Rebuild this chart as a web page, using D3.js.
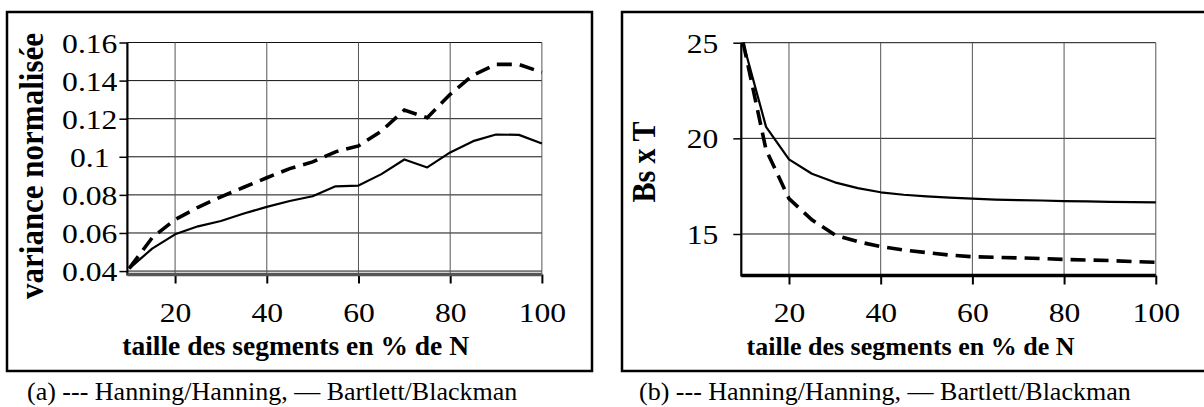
<!DOCTYPE html>
<html>
<head>
<meta charset="utf-8">
<script src="https://cdn.jsdelivr.net/npm/d3@7/dist/d3.min.js"></script>
<style>
  html, body { margin: 0; padding: 0; background: #fff; }
  svg { display: block; }
  text { font-family: "Liberation Serif", "Times New Roman", serif; fill: #000; white-space: pre; }
</style>
</head>
<body>
<svg id="fig" width="1204" height="407"></svg>
<script>
// ---------- data ----------
const sizes = [10, 15, 20, 25, 30, 35, 40, 45, 50, 55, 60, 65, 70, 75, 80, 85, 90, 95, 100];
const xTicks = [20, 40, 60, 80, 100];

// (a) variance normalisée
const varHanning  = [0.0414, 0.0575, 0.067, 0.0735, 0.079, 0.084, 0.089, 0.0938, 0.0973, 0.1026, 0.1057, 0.1135, 0.1245, 0.1205, 0.1328, 0.1429, 0.1485, 0.1485, 0.1443];
const varBartlett = [0.0413, 0.0518, 0.0593, 0.0635, 0.0663, 0.0702, 0.0737, 0.0768, 0.0793, 0.0845, 0.0849, 0.0909, 0.0986, 0.0944, 0.1023, 0.1082, 0.1117, 0.1115, 0.107];
const varTicks = [0.04, 0.06, 0.08, 0.1, 0.12, 0.14, 0.16];

// (b) Bs x T
const bstHanning  = [25, 19.4, 16.85, 15.74, 14.95, 14.6, 14.34, 14.16, 14.03, 13.9, 13.81, 13.78, 13.75, 13.72, 13.67, 13.64, 13.61, 13.56, 13.52];
const bstBartlett = [25, 20.6, 18.9, 18.15, 17.7, 17.4, 17.18, 17.05, 16.97, 16.9, 16.85, 16.8, 16.77, 16.75, 16.72, 16.7, 16.68, 16.67, 16.65];
const bstTicks = [15, 20, 25];

const xTitle = "taille des segments en % de N";
const captionA = "(a) --- Hanning/Hanning, \u2014 Bartlett/Blackman";
const captionB = "(b) --- Hanning/Hanning, \u2014 Bartlett/Blackman";

const svg = d3.select("#fig");
const SERIF = '"Liberation Serif", "Times New Roman", serif';
const SX = 1.15; // horizontal stretch of tick labels

function panel(cfg) {
  const g = svg.append("g");
  // frame
  g.append("rect").attr("x", cfg.frame[0]).attr("y", cfg.frame[1])
    .attr("width", cfg.frame[2]).attr("height", cfg.frame[3])
    .attr("fill", "none").attr("stroke", "#000").attr("stroke-width", 2.5);

  const x = d3.scaleLinear().domain([9.6, 100]).range([cfg.left, cfg.right]);
  const y = d3.scaleLinear().domain(cfg.yDomain).range([cfg.bottom, cfg.top]);
  const yTop = y(cfg.yTicks[cfg.yTicks.length - 1]);

  // horizontal grid
  g.append("g").selectAll("line").data(cfg.yTicks).join("line")
    .attr("x1", cfg.left).attr("x2", x(100))
    .attr("y1", d => y(d)).attr("y2", d => y(d))
    .attr("stroke", "#111").attr("stroke-width", 1);
  // vertical grid
  g.append("g").selectAll("line").data(xTicks).join("line")
    .attr("x1", d => x(d)).attr("x2", d => x(d))
    .attr("y1", yTop).attr("y2", cfg.bottom)
    .attr("stroke", "#555").attr("stroke-width", 1);

  // y axis
  const yAxis = d3.axisLeft(y).tickValues(cfg.yTicks).tickSize(8).tickPadding(cfg.yPad)
    .tickFormat(cfg.yFmt);
  const ya = g.append("g").attr("transform", `translate(${cfg.left},0)`).call(yAxis)
    .attr("font-family", SERIF);
  ya.select(".domain").remove();
  ya.selectAll(".tick line").attr("stroke", "#000").attr("stroke-width", 1.5);
  ya.selectAll(".tick text").each(function () {
    const t = d3.select(this);
    const tx = +t.attr("x");
    t.attr("x", 0).attr("dy", "0.35em").attr("font-size", 27.5)
      .style("font-family", SERIF)
      .attr("transform", `translate(${tx},0) scale(${SX},1)`);
  });
  g.append("line").attr("x1", cfg.left).attr("x2", cfg.left)
    .attr("y1", yTop).attr("y2", cfg.bottom + 1)
    .attr("stroke", "#000").attr("stroke-width", 2.2);

  // x axis
  const xAxis = d3.axisBottom(x).tickValues(xTicks).tickSize(9).tickPadding(20)
    .tickFormat(d3.format("d"));
  const xa = g.append("g").attr("transform", `translate(0,${cfg.bottom})`).call(xAxis)
    .attr("font-family", SERIF);
  xa.select(".domain").remove();
  xa.selectAll(".tick line").attr("stroke", "#000").attr("stroke-width", 2);
  xa.selectAll(".tick text").each(function () {
    const t = d3.select(this);
    t.attr("y", 0).attr("dy", 0).attr("font-size", 27.5)
      .style("font-family", SERIF)
      .attr("transform", `translate(0,${322 - cfg.bottom}) scale(${SX},1)`);
  });
  g.append("line").attr("x1", cfg.left).attr("x2", x(100))
    .attr("y1", cfg.bottom).attr("y2", cfg.bottom)
    .attr("stroke", cfg.xAxisColor).attr("stroke-width", 3.4);

  // lines
  const line = vals => d3.line().x((d, i) => x(sizes[i])).y(d => y(d))(vals);
  g.append("path").attr("d", line(cfg.solid)).attr("fill", "none")
    .attr("stroke", "#000").attr("stroke-width", 2.2).attr("stroke-linejoin", "round");
  g.append("path").attr("d", line(cfg.dashed)).attr("fill", "none")
    .attr("stroke", "#000").attr("stroke-width", 3.6).attr("stroke-dasharray", "15,8");

  // axis titles
  g.append("text").attr("x", (cfg.left + x(100)) / 2 + cfg.xTitleShift).attr("y", 355)
    .attr("text-anchor", "middle").attr("font-weight", "bold")
    .attr("font-size", cfg.xTitleSize).text(xTitle);
  g.append("text")
    .attr("transform", `translate(${cfg.yTitleX},${cfg.yTitleY}) scale(1.1,1) rotate(-90)`)
    .attr("text-anchor", "middle").attr("font-weight", "bold")
    .attr("font-size", cfg.yTitleSize).text(cfg.yTitle);

  // caption
  g.append("text").attr("x", cfg.capX).attr("y", 400).attr("font-size", 26).text(cfg.caption);
}

panel({
  frame: [7, 12, 585, 359],
  left: 127.4, right: 127.4 + 90.4 * 4.585, top: 42.5, bottom: 274.5,
  yDomain: [0.0382, 0.16], yTicks: varTicks,
  yFmt: d => d === 0.1 ? "0.1 " : d3.format(".2f")(d), yPad: 2,
  xAxisColor: "#555",
  solid: varBartlett, dashed: varHanning,
  yTitle: "variance normalisée", yTitleX: 43, yTitleY: 166, yTitleSize: 31,
  xTitleSize: 27.5, xTitleShift: -39,
  caption: captionA, capX: 27
});

panel({
  frame: [622, 12, 590, 359],
  left: 741.3, right: 741.3 + 90.4 * 4.585, top: 42.7, bottom: 275.5,
  yDomain: [12.83, 25], yTicks: bstTicks,
  yFmt: d3.format("d"), yPad: 15,
  xAxisColor: "#000",
  solid: bstBartlett, dashed: bstHanning,
  yTitle: "Bs x T", yTitleX: 655, yTitleY: 162, yTitleSize: 30,
  xTitleSize: 26, xTitleShift: -38,
  caption: captionB, capX: 639
});
</script>
</body>
</html>
